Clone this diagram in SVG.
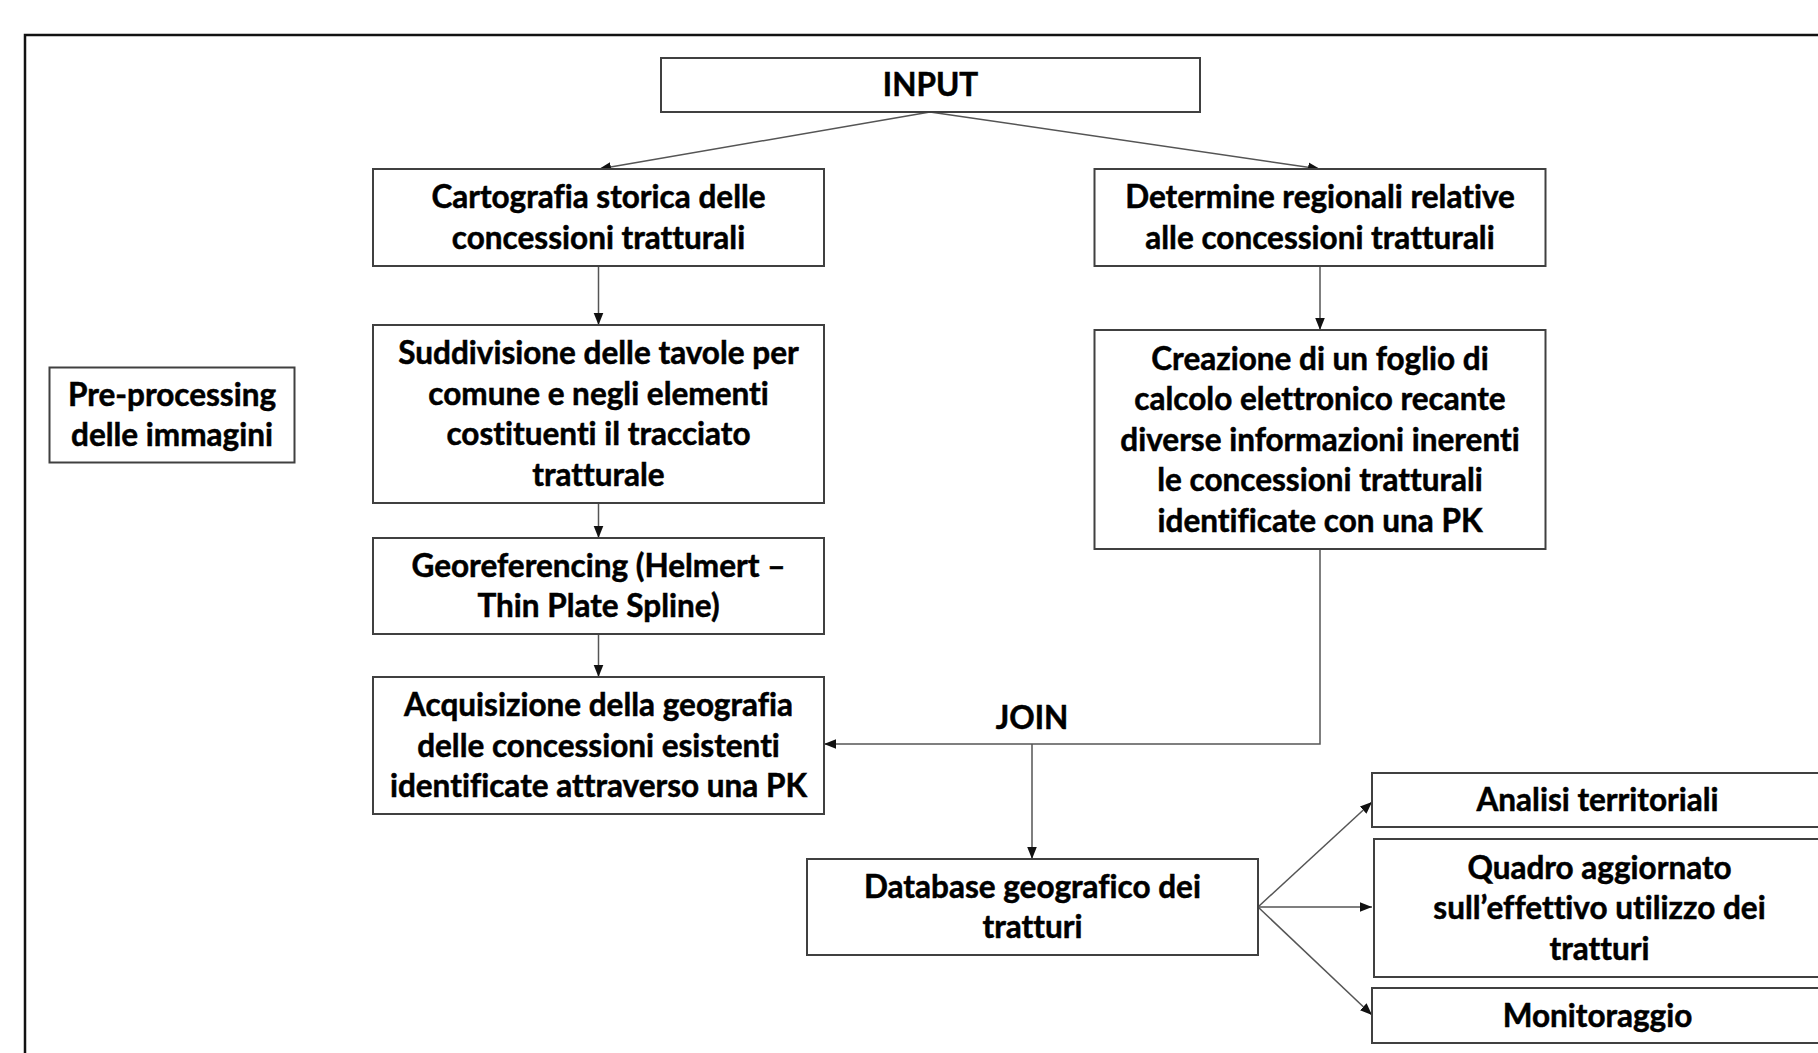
<svg xmlns="http://www.w3.org/2000/svg" width="1818" height="1053" viewBox="0 0 1818 1053">
<defs>
<style>
.box{fill:#fff;stroke:#404040;stroke-width:2}
.t{font-family:Lato,"Liberation Sans",sans-serif;font-weight:bold;font-size:31.5px;fill:#000;stroke:#000;stroke-width:0.5;text-anchor:middle;font-variant-ligatures:none;font-feature-settings:"liga" 0,"dlig" 0}
.c{fill:none;stroke:#555;stroke-width:1.5}
</style>
<marker id="ah" viewBox="0 0 10 10" refX="10" refY="5" markerWidth="12" markerHeight="12" markerUnits="userSpaceOnUse" orient="auto">
<path d="M0,1 L10,5 L0,9 Z" fill="#111"/>
</marker>
</defs>
<rect x="0" y="0" width="1818" height="1053" fill="#fff"/>
<rect x="25" y="35" width="1860" height="1100" fill="none" stroke="#111" stroke-width="2.5"/>

<g id="connectors">
<path class="c" d="M930,112 L599,169" marker-end="url(#ah)"/>
<path class="c" d="M930,112 L1320,169" marker-end="url(#ah)"/>
<path class="c" d="M598.5,266 L598.5,325" marker-end="url(#ah)"/>
<path class="c" d="M598.5,503 L598.5,538" marker-end="url(#ah)"/>
<path class="c" d="M598.5,634 L598.5,677" marker-end="url(#ah)"/>
<path class="c" d="M1320,266 L1320,330" marker-end="url(#ah)"/>
<path class="c" d="M1320,549 L1320,744 L824,744" marker-end="url(#ah)"/>
<path class="c" d="M1032,744 L1032,859" marker-end="url(#ah)"/>
<path class="c" d="M1258,907 L1372,802" marker-end="url(#ah)"/>
<path class="c" d="M1258,907 L1372,907" marker-end="url(#ah)"/>
<path class="c" d="M1258,907 L1372,1015" marker-end="url(#ah)"/>
</g>

<g id="input">
<rect class="box" x="661" y="58" width="539" height="54"/>
<text class="t" x="930.5" y="96">INPUT</text>
</g>
<g id="cartografia">
<rect class="box" x="373" y="169" width="451" height="97"/>
<text class="t" x="598.5" y="208">Cartografia storica delle<tspan x="598.5" dy="40.5">concessioni tratturali</tspan></text>
</g>
<g id="determine">
<rect class="box" x="1094.5" y="169" width="451" height="97"/>
<text class="t" x="1320" y="208">Determine regionali relative<tspan x="1320" dy="40.5">alle concessioni tratturali</tspan></text>
</g>
<g id="suddivisione">
<rect class="box" x="373" y="325" width="451" height="178"/>
<text class="t" x="598.5" y="364">Suddivisione delle tavole per<tspan x="598.5" dy="40.5">comune e negli elementi</tspan><tspan x="598.5" dy="40.5">costituenti il tracciato</tspan><tspan x="598.5" dy="40.5">tratturale</tspan></text>
</g>
<g id="creazione">
<rect class="box" x="1094.5" y="330" width="451" height="219"/>
<text class="t" x="1320" y="369.5">Creazione di un foglio di<tspan x="1320" dy="40.5">calcolo elettronico recante</tspan><tspan x="1320" dy="40.5">diverse informazioni inerenti</tspan><tspan x="1320" dy="40.5">le concessioni tratturali</tspan><tspan x="1320" dy="40.5">identificate con una PK</tspan></text>
</g>
<g id="preprocessing">
<rect class="box" x="49.5" y="367.5" width="245" height="95"/>
<text class="t" x="172" y="405.5">Pre-processing<tspan x="172" dy="40.5">delle immagini</tspan></text>
</g>
<g id="georeferencing">
<rect class="box" x="373" y="538" width="451" height="96"/>
<text class="t" x="598.5" y="576.5">Georeferencing (Helmert –<tspan x="598.5" dy="40.5">Thin Plate Spline)</tspan></text>
</g>
<g id="acquisizione">
<rect class="box" x="373" y="677" width="451" height="137"/>
<text class="t" x="598.5" y="716">Acquisizione della geografia<tspan x="598.5" dy="40.5">delle concessioni esistenti</tspan><tspan x="598.5" dy="40.5">identificate attraverso una PK</tspan></text>
</g>
<g id="join">
<text class="t" x="1032" y="728.5">JOIN</text>
</g>
<g id="database">
<rect class="box" x="807" y="859" width="451" height="96"/>
<text class="t" x="1032.5" y="897.5">Database geografico dei<tspan x="1032.5" dy="40.5">tratturi</tspan></text>
</g>
<g id="analisi">
<rect class="box" x="1372" y="773" width="451" height="54"/>
<text class="t" x="1597.5" y="811">Analisi territoriali</text>
</g>
<g id="quadro">
<rect class="box" x="1374" y="839" width="451" height="138"/>
<text class="t" x="1599.5" y="878.5">Quadro aggiornato<tspan x="1599.5" dy="40.5">sull’effettivo utilizzo dei</tspan><tspan x="1599.5" dy="40.5">tratturi</tspan></text>
</g>
<g id="monitoraggio">
<rect class="box" x="1372" y="988" width="451" height="55"/>
<text class="t" x="1597.5" y="1026.5">Monitoraggio</text>
</g>
</svg>
